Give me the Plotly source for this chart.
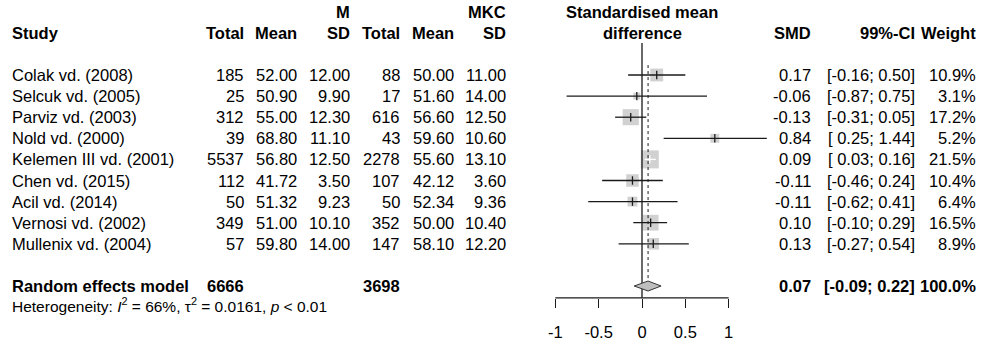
import plotly.graph_objects as go

# ---------------- data ----------------
studies = ["Colak vd. (2008)", "Selcuk vd. (2005)", "Parviz vd. (2003)", "Nold vd. (2000)",
           "Kelemen III vd. (2001)", "Chen vd. (2015)", "Acil vd. (2014)",
           "Vernosi vd. (2002)", "Mullenix vd. (2004)"]
n_m = [185, 25, 312, 39, 5537, 112, 50, 349, 57]
mean_m = [52.00, 50.90, 55.00, 68.80, 56.80, 41.72, 51.32, 51.00, 59.80]
sd_m = [12.00, 9.90, 12.30, 11.10, 12.50, 3.50, 9.23, 10.10, 14.00]
n_mkc = [88, 17, 616, 43, 2278, 107, 50, 352, 147]
mean_mkc = [50.00, 51.60, 56.60, 59.60, 55.60, 42.12, 52.34, 50.00, 58.10]
sd_mkc = [11.00, 14.00, 12.50, 10.60, 13.10, 3.60, 9.36, 10.40, 12.20]
smd = [0.17, -0.06, -0.13, 0.84, 0.09, -0.11, -0.11, 0.10, 0.13]
ci_low = [-0.16, -0.87, -0.31, 0.25, 0.03, -0.46, -0.62, -0.10, -0.27]
ci_high = [0.50, 0.75, 0.05, 1.44, 0.16, 0.24, 0.41, 0.29, 0.54]
weight = [10.9, 3.1, 17.2, 5.2, 21.5, 10.4, 6.4, 16.5, 8.9]

re_label = "Random effects model"
re_n_m = 6666
re_n_mkc = 3698
re_smd = 0.07
re_low = -0.09
re_high = 0.22
re_weight = 100.0
het_i2 = 66
het_tau2 = 0.0161
het_p = "< 0.01"

tick_vals = [-1, -0.5, 0, 0.5, 1]
tick_text = ["-1", "-0.5", "0", "0.5", "1"]

# ---------------- layout constants ----------------
W, H = 991, 342
ZERO_PX = 642.0
PX_PER_UNIT = 86.67
ROW0_PX = 75.0
ROW_PX = 21.1
FONT = "Liberation Sans, Arial, sans-serif"
FS = 16.5
BLACK = "#000000"
LINE = "#1a1a1a"
BOXGRAY = "#bebebe"

def px(xp):
    return xp / W

def fmt_ci(lo, hi):
    lo_s = f"{lo:.2f}" if lo < 0 else " " + f"{lo:.2f}"
    return f"[{lo_s}; {hi:.2f}]"

fig = go.Figure()

nrows = len(studies)
rows = list(range(nrows))
re_row = nrows + 1

# squares (area proportional to weight)
max_w = max(weight)
sizes = [18.0 * (w / max_w) ** 0.5 for w in weight]
fig.add_trace(go.Scatter(x=smd, y=rows, mode="markers",
                         marker=dict(symbol="square", size=sizes, color=BOXGRAY, line=dict(width=0)),
                         hoverinfo="skip", showlegend=False))

# CI lines: black unless CI lies inside the box (then white)
def inside(i):
    half = sizes[i] / 2 / PX_PER_UNIT
    return ci_low[i] >= smd[i] - half and ci_high[i] <= smd[i] + half

for color, sel in ((LINE, [i for i in rows if not inside(i)]), ("#ffffff", [i for i in rows if inside(i)])):
    xs, ys = [], []
    for i in sel:
        xs += [ci_low[i], ci_high[i], None]
        ys += [i, i, None]
    if xs:
        fig.add_trace(go.Scatter(x=xs, y=ys, mode="lines", line=dict(color=color, width=1.3),
                                 hoverinfo="skip", showlegend=False))
        fig.add_trace(go.Scatter(x=[smd[i] for i in sel], y=sel, mode="markers",
                                 marker=dict(symbol="line-ns", size=6, line=dict(color=color, width=1.3)),
                                 hoverinfo="skip", showlegend=False))

axis_row = nrows + 1.56
# reference line at 0
fig.add_trace(go.Scatter(x=[0, 0], y=[-1.52, axis_row], mode="lines",
                         line=dict(color=LINE, width=1.3), hoverinfo="skip", showlegend=False))
# dotted line at pooled estimate
dh = 5.0 / ROW_PX
fig.add_trace(go.Scatter(x=[re_smd, re_smd], y=[-0.47, re_row - dh], mode="lines",
                         line=dict(color=LINE, width=1, dash="dot"), hoverinfo="skip", showlegend=False))
# diamond
fig.add_trace(go.Scatter(x=[re_low, re_smd, re_high, re_smd, re_low],
                         y=[re_row, re_row - dh, re_row, re_row + dh, re_row],
                         mode="lines", fill="toself", fillcolor=BOXGRAY,
                         line=dict(color="#333333", width=1), hoverinfo="skip", showlegend=False))
# axis baseline
fig.add_trace(go.Scatter(x=[tick_vals[0], tick_vals[-1]], y=[axis_row, axis_row], mode="lines",
                         line=dict(color=LINE, width=1.3), hoverinfo="skip", showlegend=False))

# ---------------- text ----------------
ann = []
def txt(x_px, row, s, anchor="right", size=FS, bold=False):
    if bold:
        s = f"<b>{s}</b>"
    ann.append(dict(x=px(x_px), xref="paper", y=row, yref="y", text=s, showarrow=False,
                    xanchor=anchor, yanchor="middle", font=dict(family=FONT, size=size, color=BLACK)))

C_N1, C_M1, C_S1, C_N2, C_M2, C_S2 = 246, 299, 352, 402, 456, 508
C_SMD, C_CI, C_W = 813, 917, 978

# headers
txt(10, -2, "Study", "left", bold=True)
txt(C_N1, -2, "Total", bold=True)
txt(C_M1, -2, "Mean", bold=True)
txt(C_S1, -3, "M", bold=True)
txt(C_S1, -2, "SD", bold=True)
txt(C_N2, -2, "Total", bold=True)
txt(C_M2, -2, "Mean", bold=True)
txt(C_S2, -3, "MKC", bold=True)
txt(C_S2, -2, "SD", bold=True)
txt(ZERO_PX, -3, "Standardised mean", "center", bold=True)
txt(ZERO_PX, -2, "difference", "center", bold=True)
txt(C_SMD, -2, "SMD", bold=True)
txt(C_CI, -2, "99%-CI", bold=True)
txt(C_W, -2, "Weight", bold=True)

for i in rows:
    txt(10, i, studies[i], "left")
    txt(C_N1, i, f"{n_m[i]}")
    txt(C_M1, i, f"{mean_m[i]:.2f}")
    txt(C_S1, i, f"{sd_m[i]:.2f}")
    txt(C_N2, i, f"{n_mkc[i]}")
    txt(C_M2, i, f"{mean_mkc[i]:.2f}")
    txt(C_S2, i, f"{sd_mkc[i]:.2f}")
    txt(C_SMD, i, f"{smd[i]:.2f}")
    txt(C_CI, i, fmt_ci(ci_low[i], ci_high[i]))
    txt(C_W, i, f"{weight[i]:.1f}%")

txt(10, re_row, re_label, "left", bold=True)
txt(C_N1, re_row, f"{re_n_m}", bold=True)
txt(C_N2, re_row, f"{re_n_mkc}", bold=True)
txt(C_SMD, re_row, f"{re_smd:.2f}", bold=True)
txt(C_CI, re_row, fmt_ci(re_low, re_high), bold=True)
txt(C_W, re_row, f"{re_weight:.1f}%", bold=True)

het = (f"Heterogeneity: <i>I</i><sup>2</sup> = {het_i2}%, \u03c4<sup>2</sup> = {het_tau2}, "
       f"<i>p</i> {het_p}")
txt(10, re_row + 0.9, het, "left", size=15.5)

fig.update_layout(
    width=W, height=H, margin=dict(l=0, r=0, t=0, b=0),
    paper_bgcolor="white", plot_bgcolor="white",
    annotations=ann,
    xaxis=dict(domain=[0, 1], range=[-ZERO_PX / PX_PER_UNIT, (W - ZERO_PX) / PX_PER_UNIT],
               showgrid=False, zeroline=False, showline=False,
               anchor="free", position=1 - (ROW0_PX + axis_row * ROW_PX) / H,
               tickmode="array", tickvals=tick_vals, ticktext=tick_text,
               ticks="outside", ticklen=9, tickwidth=1.3, tickcolor=LINE,
               ticklabelstandoff=10,
               tickfont=dict(family=FONT, size=FS, color=BLACK)),
    yaxis=dict(domain=[0, 1], range=[(H - ROW0_PX) / ROW_PX, -ROW0_PX / ROW_PX],
               visible=False),
)

fig.write_html("out.html", config={"displayModeBar": False},
               post_script="document.body.style.margin='0px';document.body.style.overflow='hidden';")
